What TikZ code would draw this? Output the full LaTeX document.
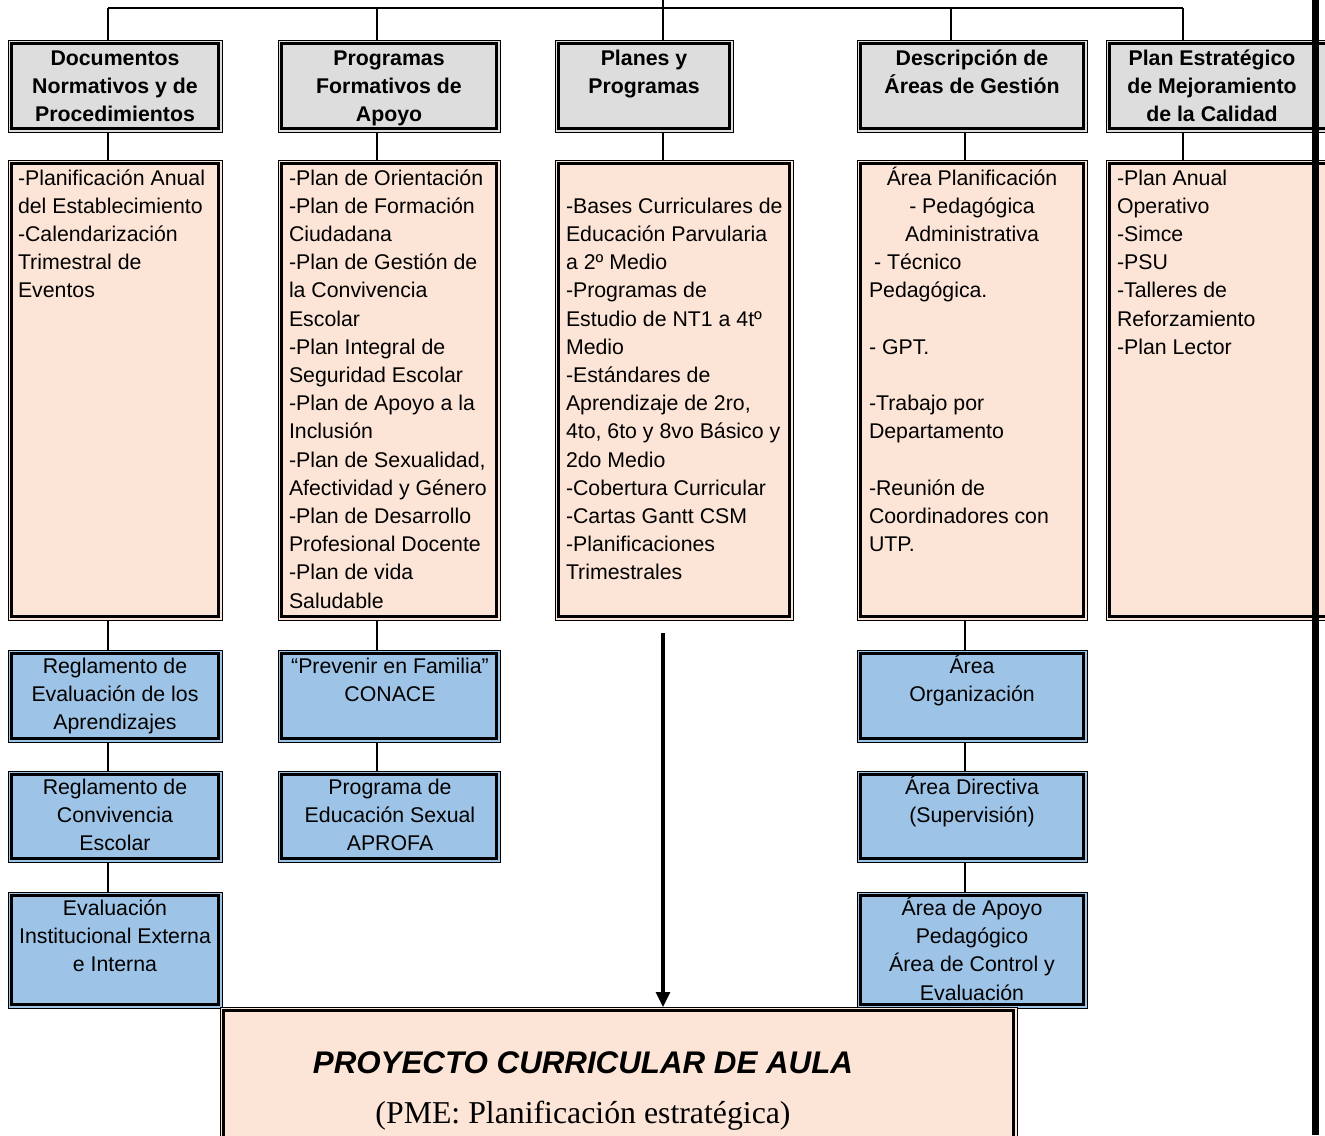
\documentclass[tikz,border=0pt]{standalone}
\usepackage{fontspec}
\newfontfamily\arialf{Liberation Sans}
\newfontfamily\timesf{Liberation Serif}
\usetikzlibrary{arrows.meta}
\definecolor{hdrgray}{RGB}{221,221,221}
\definecolor{peach}{RGB}{252,228,214}
\definecolor{skyblue}{RGB}{157,195,230}

% fixed height for the first line of every text block
\newcommand\tstrut{\rule{0pt}{20pt}}

\tikzset{
  frame/.style={draw=black, line width=1pt, outer sep=0pt, inner sep=0pt, anchor=north west,
    path picture={\draw[line width=2.6pt]
      ([xshift=3.6pt,yshift=-3.6pt]path picture bounding box.north west) rectangle
      ([xshift=-3.6pt,yshift=3.6pt]path picture bounding box.south east);}},
  hdrbox/.style={frame, fill=hdrgray},
  listbox/.style={frame, fill=peach},
  bluebox/.style={frame, fill=skyblue},
  txt/.style={inner sep=0pt, outer sep=0pt,
    font=\arialf\fontsize{21.3}{28.2}\selectfont},
  hdrtxt/.style={txt, font=\arialf\bfseries\fontsize{21.3}{28.2}\selectfont, align=center, anchor=north},
  lefttxt/.style={txt, align=left, anchor=north west},
  ctrtxt/.style={txt, align=center, anchor=north},
  link/.style={line width=1.5pt},
  bigarrow/.style={line width=3.2pt, -{Triangle[width=14pt,length=15pt]}},
}

% box with its top-left and bottom-right corners
\newcommand\mkframe[6]{\node[#2, minimum width=#5pt-#3pt, minimum height=#6pt-#4pt] (#1) at (#3,#4) {};}

\begin{document}
\begin{tikzpicture}[x=1pt,y=-1pt]
\useasboundingbox (0,0) rectangle (1325,1135);
\clip (0,0) rectangle (1325,1135);

% bus coordinates
\coordinate (feed) at (663,0);
\coordinate (busL) at (108,8);
\coordinate (busP) at (377,8);
\coordinate (busD) at (951,8);
\coordinate (colD) at (965,8);
\coordinate (busR) at (1183,8);

% header row
\mkframe{docH}{hdrbox}{8}{40}{222}{132}
\mkframe{proH}{hdrbox}{278}{40}{500}{132}
\mkframe{plaH}{hdrbox}{555}{40}{733}{132}
\mkframe{desH}{hdrbox}{857}{40}{1087}{132}
\mkframe{plnH}{hdrbox}{1106}{40}{1340}{132}

\node[hdrtxt] (docHt) at (115,45) {\tstrut Documentos\\Normativos y de\\Procedimientos};
\node[hdrtxt] (proHt) at (389,45) {\tstrut Programas\\Formativos de\\Apoyo};
\node[hdrtxt] (plaHt) at (644,45) {\tstrut Planes y\\Programas};
\node[hdrtxt] (desHt) at (972,45) {\tstrut Descripción de\\Áreas de Gestión};
\node[hdrtxt] (plnHt) at (1212,45) {\tstrut Plan Estratégico\\de Mejoramiento\\de la Calidad};

% content row
\mkframe{docC}{listbox}{8}{160}{222}{620}
\mkframe{proC}{listbox}{278}{160}{500}{620}
\mkframe{plaC}{listbox}{555}{160}{793}{620}
\mkframe{desC}{listbox}{857}{160}{1087}{620}
\mkframe{plnC}{listbox}{1106}{160}{1340}{620}

\node[lefttxt] (docCt) at (18,165) {\tstrut -Planificación Anual\\del Establecimiento\\-Calendarización\\Trimestral de\\Eventos};
\node[lefttxt] (proCt) at (289,165) {\tstrut -Plan de Orientación\\-Plan de Formación\\Ciudadana\\-Plan de Gestión de\\la Convivencia\\Escolar\\-Plan Integral de\\Seguridad Escolar\\-Plan de Apoyo a la\\Inclusión\\-Plan de Sexualidad,\\Afectividad y Género\\-Plan de Desarrollo\\Profesional Docente\\-Plan de vida\\Saludable};
\node[lefttxt] (plaCt) at (566,193.2) {\tstrut -Bases Curriculares de\\Educación Parvularia\\a 2º Medio\\-Programas de\\Estudio de NT1 a 4tº\\Medio\\-Estándares de\\Aprendizaje de 2ro,\\4to, 6to y 8vo Básico y\\2do Medio\\-Cobertura Curricular\\-Cartas Gantt CSM\\-Planificaciones\\Trimestrales};
\node[ctrtxt] (desCa) at (972,165) {\tstrut Área Planificación\\- Pedagógica\\Administrativa};
\node[lefttxt] (desCb) at (869,249.6) {\tstrut\hspace*{5pt}- Técnico\\Pedagógica.\\\mbox{}\\- GPT.\\\mbox{}\\-Trabajo por\\Departamento\\\mbox{}\\-Reunión de\\Coordinadores con\\UTP.};
\node[lefttxt] (plnCt) at (1117,165) {\tstrut -Plan Anual\\Operativo\\-Simce\\-PSU\\-Talleres de\\Reforzamiento\\-Plan Lector};

% lower blue boxes
\mkframe{docB1}{bluebox}{8}{650}{222}{742}
\mkframe{docB2}{bluebox}{8}{771}{222}{862}
\mkframe{docB3}{bluebox}{8}{892}{222}{1008}
\mkframe{proB1}{bluebox}{278}{650}{500}{742}
\mkframe{proB2}{bluebox}{278}{771}{500}{862}
\mkframe{desB1}{bluebox}{857}{650}{1087}{742}
\mkframe{desB2}{bluebox}{857}{771}{1087}{862}
\mkframe{desB3}{bluebox}{857}{892}{1087}{1008}

\node[ctrtxt] (docB1t) at (115,653.5) {\tstrut Reglamento de\\Evaluación de los\\Aprendizajes};
\node[ctrtxt] (docB2t) at (115,774.5) {\tstrut Reglamento de\\Convivencia\\Escolar};
\node[ctrtxt] (docB3t) at (115,895.5) {\tstrut Evaluación\\Institucional Externa\\e Interna};
\node[ctrtxt] (proB1t) at (390,653.5) {\tstrut “Prevenir en Familia”\\CONACE};
\node[ctrtxt] (proB2t) at (390,774.5) {\tstrut Programa de\\Educación Sexual\\APROFA};
\node[ctrtxt] (desB1t) at (972,653.5) {\tstrut Área\\Organización};
\node[ctrtxt] (desB2t) at (972,774.5) {\tstrut Área Directiva\\(Supervisión)};
\node[ctrtxt] (desB3t) at (972,895.5) {\tstrut Área de Apoyo\\Pedagógico\\Área de Control y\\Evaluación};

% final box
\mkframe{proj}{listbox}{220}{1007}{1017}{1150}
\node[inner sep=0pt, anchor=base, font=\arialf\bfseries\itshape\fontsize{31.3}{36}\selectfont] (projT) at (583,1073) {PROYECTO CURRICULAR DE AULA};
\node[inner sep=0pt, anchor=base, font=\timesf\fontsize{31.8}{36}\selectfont] (projS) at (583,1123) {(PME: Planificación estratégica)};

% connectors from the top bus
\draw[link] (busL) -- (busR);
\draw[link] (feed) -- (feed |- plaH.north);
\draw[link] (busL) -- (busL |- docH.north);
\draw[link] (busP) -- (busP |- proH.north);
\draw[link] (busD) -- (busD |- desH.north);
\draw[link] (busR) -- (busR |- plnH.north);

% headers to contents
\draw[link] (busL |- docH.south) -- (busL |- docC.north);
\draw[link] (busP |- proH.south) -- (busP |- proC.north);
\draw[link] (feed |- plaH.south) -- (feed |- plaC.north);
\draw[link] (colD |- desH.south) -- (colD |- desC.north);
\draw[link] (busR |- plnH.south) -- (busR |- plnC.north);

% vertical chains below the contents
\draw[link] (busL |- docC.south) -- (busL |- docB1.north);
\draw[link] (busL |- docB1.south) -- (busL |- docB2.north);
\draw[link] (busL |- docB2.south) -- (busL |- docB3.north);
\draw[link] (busP |- proC.south) -- (busP |- proB1.north);
\draw[link] (busP |- proB1.south) -- (busP |- proB2.north);
\draw[link] (colD |- desC.south) -- (colD |- desB1.north);
\draw[link] (colD |- desB1.south) -- (colD |- desB2.north);
\draw[link] (colD |- desB2.south) -- (colD |- desB3.north);

% main arrow into the final box
\draw[bigarrow, shorten <=13pt] (feed |- plaC.south) -- (feed |- proj.north);

% heavy right rule
\fill[black] (1312,0) rectangle (1319,1135);
\end{tikzpicture}
\end{document}
